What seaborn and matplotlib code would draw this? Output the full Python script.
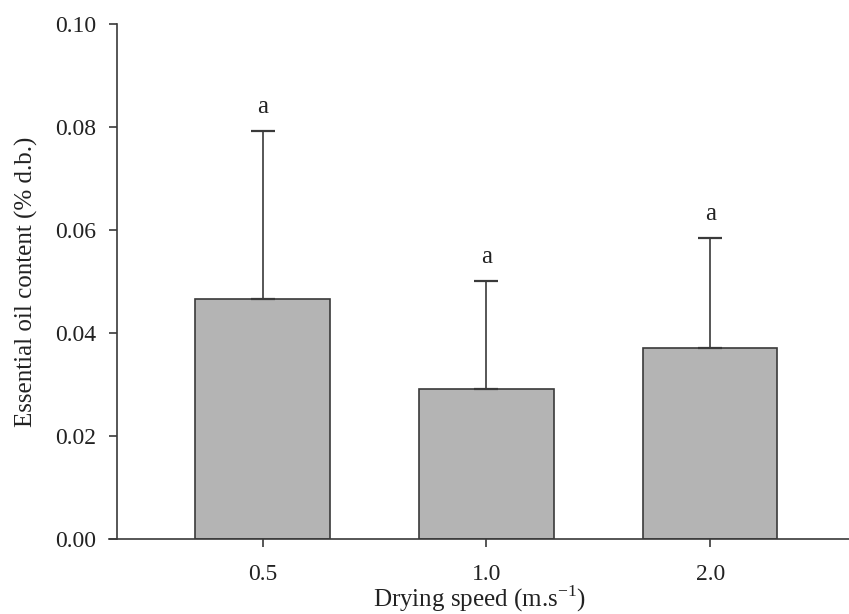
import matplotlib
matplotlib.use("Agg")
import matplotlib.pyplot as plt
import seaborn as sns
import pandas as pd
import numpy as np

# values
speeds = ["0.5", "1.0", "2.0"]
oil_mean = [0.0465, 0.0292, 0.0370]
oil_sd = [0.0327, 0.0209, 0.0214]
letters = ["a", "a", "a"]

df = pd.DataFrame({"speed": speeds, "oil": oil_mean})

sns.set_style("ticks")
plt.rcParams["font.family"] = ["Liberation Serif", "DejaVu Serif"]
plt.rcParams["mathtext.fontset"] = "custom"
plt.rcParams["mathtext.rm"] = "Liberation Serif"

fig = plt.figure(figsize=(8.49, 6.14), dpi=100)
ax = fig.add_axes([109 / 849, 75 / 614, (849 - 109) / 849, (539 - 23.7) / 614])

edge = "#3a3a3a"
sns.barplot(data=df, x="speed", y="oil", order=speeds, color="#b4b4b4",
            saturation=1, width=0.6, edgecolor=edge, linewidth=1.2,
            errorbar=None, ax=ax)

pos = np.arange(len(speeds))
ax.errorbar(pos, oil_mean, yerr=[np.zeros(len(oil_sd)), oil_sd], fmt="none",
            ecolor=edge, elinewidth=1.2, capsize=8.5, capthick=1.6, zorder=1)

for x, m, s, lab in zip(pos, oil_mean, oil_sd, letters):
    ax.text(x, m + s + 0.0035, lab, ha="center", va="baseline", fontsize=18,
            color="#222222")

ax.set_xlim(-0.686, 2.62)
ax.set_ylim(0, 0.10)
ax.set_yticks([0, 0.02, 0.04, 0.06, 0.08, 0.10])
ax.set_yticklabels(["0.00", "0.02", "0.04", "0.06", "0.08", "0.10"])
ax.spines["left"].set_position(("data", -0.65))
ax.spines["left"].set_bounds(0, 0.10)
sns.despine(ax=ax, top=True, right=True)
for sp in ["left", "bottom"]:
    ax.spines[sp].set_color(edge)
    ax.spines[sp].set_linewidth(1.2)
ax.tick_params(axis="both", direction="out", length=6, width=1.2,
               color=edge, labelsize=17, labelcolor="#222222", pad=9)
ax.tick_params(axis="x", pad=12)

ax.set_xlabel("Drying speed (m.s$^{\\mathrm{-1}}$)", fontsize=18,
              color="#222222", labelpad=-1)
ax.set_ylabel("Essential oil content (% d.b.)", fontsize=18, color="#222222",
              labelpad=12)

fig.savefig("out.png", dpi=100)
